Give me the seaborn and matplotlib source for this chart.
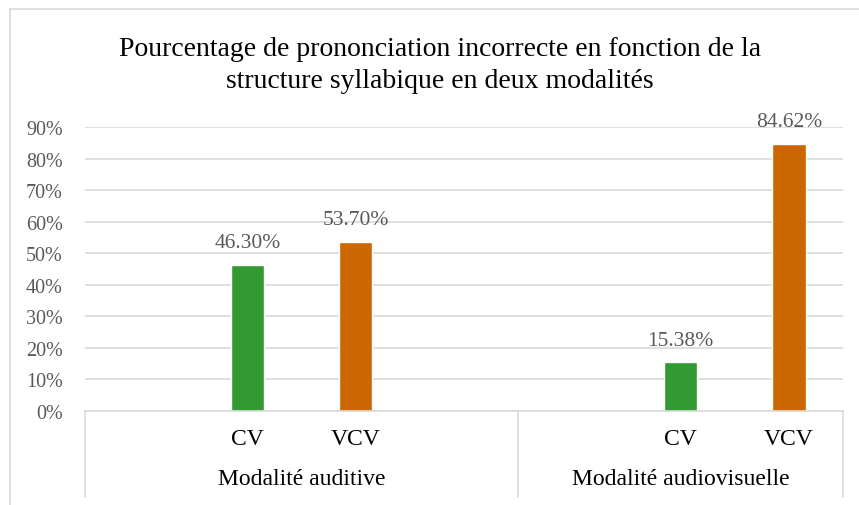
import pandas as pd
import seaborn as sns
import matplotlib.pyplot as plt
from matplotlib.patches import Rectangle

# Data
groups = ["Modalité auditive", "Modalité audiovisuelle"]
structures = ["CV", "VCV"]
auditive_values = [46.30, 53.70]
audiovisuelle_values = [15.38, 84.62]
y_ticks = [0, 10, 20, 30, 40, 50, 60, 70, 80, 90]

# Excel-like category slots: group 1 has 4 slots, group 2 has 3
slot_order = ["a_blank", "a_CV", "a_VCV", "a_blank2", "b_blank", "b_CV", "b_VCV"]
group_slots = [(0, 3), (4, 6)]

colors = {"CV": "#339933", "VCV": "#CC6600"}
grid_color = "#D9D9D9"
label_gray = "#595959"

df = pd.DataFrame({
    "slot": ["a_CV", "a_VCV", "b_CV", "b_VCV"],
    "structure": structures * 2,
    "value": auditive_values + audiovisuelle_values,
})

sns.set_style("white")
plt.rcParams["font.family"] = ["Liberation Serif", "DejaVu Serif"]

fig = plt.figure(figsize=(8.59, 5.06), dpi=100)
ax = fig.add_axes([85 / 859, 1 - 412 / 506, (843 - 85) / 859, (412 - 128) / 506])

sns.barplot(data=df, x="slot", y="value", hue="structure", order=slot_order,
            palette=colors, dodge=False, width=0.31, legend=False, ax=ax,
            saturation=1)

ax.set_ylim(0, 90)
ax.set_xlim(-0.5, len(slot_order) - 0.5)
ax.set_yticks(y_ticks)
ax.set_yticklabels([f"{t}%" for t in y_ticks], fontsize=14.5, color=label_gray)
ax.tick_params(axis="y", length=0, pad=16)
ax.set_xticks([])
ax.set_xlabel("")
ax.set_ylabel("")
ax.yaxis.grid(True, color=grid_color, linewidth=1.2)
ax.set_axisbelow(True)
for side in ["top", "right", "left"]:
    ax.spines[side].set_visible(False)
ax.spines["bottom"].set_color(grid_color)
ax.spines["bottom"].set_linewidth(1.2)

# data labels
for cont in ax.containers:
    ax.bar_label(cont, fmt="%.2f%%", padding=9, fontsize=15.5, color=label_gray)

# multi-level category axis
trans = ax.get_xaxis_transform()
for i, slot in enumerate(slot_order):
    name = slot.split("_")[1]
    if name in structures:
        ax.text(i, -0.098, name, transform=trans, ha="center", va="center",
                fontsize=17, color="#000000")
for (lo, hi), g in zip(group_slots, groups):
    ax.text((lo + hi) / 2, -0.239, g, transform=trans, ha="center", va="center",
            fontsize=17, color="#000000")
for xb in [-0.5, 3.5, len(slot_order) - 0.5]:
    ax.plot([xb, xb], [0, -0.303], transform=trans, color=grid_color,
            linewidth=1.2, clip_on=False)

# title
fig.text(440 / 859, 1 - 50 / 506,
         "Pourcentage de prononciation incorrecte en fonction de la",
         ha="center", va="center", fontsize=20, color="#000000")
fig.text(440 / 859, 1 - 82 / 506,
         "structure syllabique en deux modalités",
         ha="center", va="center", fontsize=20, color="#000000")

# chart frame
fig.patches.append(Rectangle((10 / 859, -0.05), 1.0, 1 - 10 / 506 + 0.05,
                             transform=fig.transFigure, fill=False,
                             edgecolor=grid_color, linewidth=1.2))

fig.savefig("out.png", dpi=100)
